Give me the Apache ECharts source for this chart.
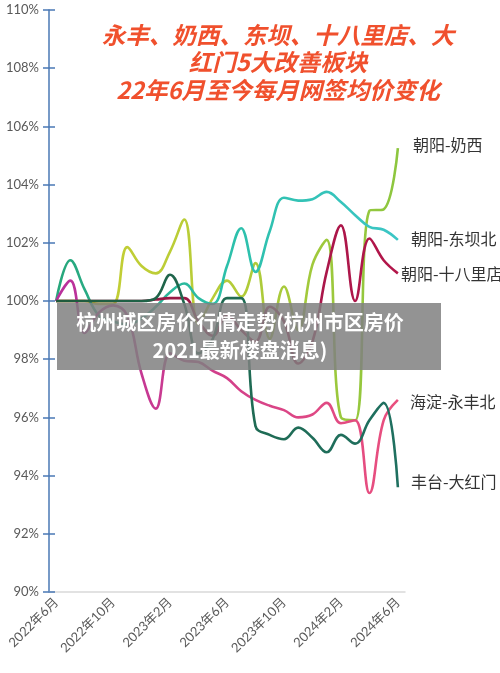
<!DOCTYPE html>
<html>
<head>
<meta charset="utf-8">
<script src="https://cdn.jsdelivr.net/npm/echarts@6/dist/echarts.min.js"></script>
<style>
  html, body { margin: 0; padding: 0; background: #fff; }
  #main { width: 500px; height: 673px; }
</style>
</head>
<body>
<div id="main"></div>
<script>
// 月份（2022年6月 ~ 2024年6月）
const months = [
  '2022年6月', '2022年7月', '2022年8月', '2022年9月', '2022年10月', '2022年11月', '2022年12月',
  '2023年1月', '2023年2月', '2023年3月', '2023年4月', '2023年5月', '2023年6月', '2023年7月',
  '2023年8月', '2023年9月', '2023年10月', '2023年11月', '2023年12月', '2024年1月', '2024年2月',
  '2024年3月', '2024年4月', '2024年5月', '2024年6月'
]
const seriesNames = ['朝阳-奶西', '朝阳-东坝北', '朝阳-十八里店', '海淀-永丰北', '丰台-大红门']
// 各板块网签均价指数（%，以22年6月为100）
const naixi = [100, 100, 100, 99.9, 99.9, 101.85, 101.2, 100.95, 101.7, 102.8, 99.2, 100.1, 100.7,
  100.15, 101.3, 98.7, 100.5, 99.0, 101.25, 102.1, 96.0, 95.9, 103.1, 103.15, 105.25]
const dongba = [100, 101.4, 100.4, 99.5, 99.3, 99.2, 99.4, 99.8, 100.3, 100.6, 100.1, 99.9, 101.2,
  102.5, 101.0, 102.4, 103.55, 103.45, 103.5, 103.75, 103.4, 102.95, 102.55, 102.45, 102.1]
const shiba = [100, 100, 100, 100, 100, 100, 100, 100.05, 100.1, 100.1, 99.3, 98.8, 99.5, 99.0,
  98.6, 99.8, 99.3, 97.85, 98.6, 101.0, 102.6, 100.0, 102.15, 101.4, 100.95]
const yongfeng = [100, 100.7, 98.9, 99.6, 99.85, 99.5, 97.5, 96.3, 98.2, 97.95, 97.9, 97.6, 97.35,
  96.9, 96.6, 96.4, 96.25, 96.0, 96.1, 96.5, 95.8, 95.9, 93.4, 95.9, 96.6]
const dahongmen = [100, 100, 100, 100, 100, 100, 100, 100.1, 100.9, 99.9, 98.2, 98.7, 100.1, 100.1,
  95.7, 95.4, 95.25, 95.65, 95.3, 94.8, 95.4, 95.1, 95.9, 96.5, 93.6]

const chart = echarts.init(document.getElementById('main'))

const grad = (stops) => new echarts.graphic.LinearGradient(0, 0, 1, 0,
  stops.map((c, i) => ({ offset: i / (stops.length - 1), color: c })))

const lineColors = [
  ['#c9cf33', '#b5cc38', '#8cc63f'],
  ['#27a67a', '#2cc0aa', '#3cc6c6'],
  ['#8a1a3c', '#a0184a', '#b3164a'],
  ['#b8309c', '#d3408a', '#ea507e'],
  ['#1f5a3c', '#1f6a52', '#1f7060']
]
const labelOffsets = [[7, -3], [5, -1], [-5, 1], [4, 2], [5, -5]]
const allData = [naixi, dongba, shiba, yongfeng, dahongmen]

const seriesArr = allData.map((arr, idx) => ({
  name: seriesNames[idx],
  type: 'line',
  data: arr,
  smooth: 0.4,
  symbol: 'none',
  lineStyle: { width: 2.6, color: grad(lineColors[idx]) },
  endLabel: {
    show: true,
    formatter: '{a}',
    color: '#333',
    fontSize: 16,
    fontFamily: 'Noto Sans CJK SC',
    offset: labelOffsets[idx]
  }
}))

const fontCJK = '"Noto Sans CJK SC", sans-serif'

chart.setOption({
  animation: false,
  backgroundColor: '#fff',
  grid: { left: 49, right: 95, top: 10, bottom: 81 },
  xAxis: {
    type: 'category',
    data: months,
    boundaryGap: true,
    axisLine: { lineStyle: { color: '#d9d9d9', width: 1.5 } },
    axisTick: { interval: 3, length: 5, lineStyle: { color: '#d0d0d0' } },
    axisLabel: {
      interval: 3,
      rotate: 45,
      margin: 8,
      color: '#595959',
      fontSize: 13,
      fontFamily: 'Lato, "Noto Sans CJK SC"'
    },
    splitLine: { show: false }
  },
  yAxis: [
    {
      type: 'value',
      min: 90,
      max: 110,
      interval: 2,
      axisLine: { show: true, lineStyle: { color: '#4a78b5', width: 1.5 } },
      axisTick: { show: true, length: 6, lineStyle: { color: '#4a78b5', width: 1.5 } },
      axisLabel: { formatter: '{value}%', color: '#595959', fontSize: 13, margin: 10, fontFamily: 'Lato' },
      splitLine: { show: false }
    },
    {
      // 刻度线穿过轴线的内侧部分
      type: 'value',
      position: 'left',
      min: 90,
      max: 110,
      interval: 2,
      axisLine: { show: false },
      axisTick: { show: true, inside: true, length: 6, lineStyle: { color: '#4a78b5', width: 1.5 } },
      axisLabel: { show: false },
      splitLine: { show: false }
    }
  ],
  series: seriesArr,
  graphic: [
    {
      type: 'text',
      x: 278,
      y: 21,
      z: 100,
      style: {
        text: '永丰、奶西、东坝、十八里店、大\n红门5大改善板块\n22年6月至今每月网签均价变化',
        fill: '#f0502d',
        fontSize: 23.5,
        fontWeight: 'bold',
        fontStyle: 'italic',
        fontFamily: fontCJK,
        lineHeight: 27.5,
        align: 'center',
        verticalAlign: 'top'
      }
    },
    {
      type: 'rect',
      z: 100,
      shape: { x: 57, y: 303, width: 384, height: 67 },
      style: { fill: 'rgba(128,128,128,0.85)' }
    },
    {
      type: 'text',
      x: 240,
      y: 308,
      z: 101,
      style: {
        text: '杭州城区房价行情走势(杭州市区房价\n2021最新楼盘消息)',
        fill: '#fff',
        fontSize: 20,
        fontWeight: 'bold',
        fontFamily: fontCJK,
        lineHeight: 28,
        align: 'center',
        verticalAlign: 'top'
      }
    }
  ]
})
</script>
</body>
</html>
